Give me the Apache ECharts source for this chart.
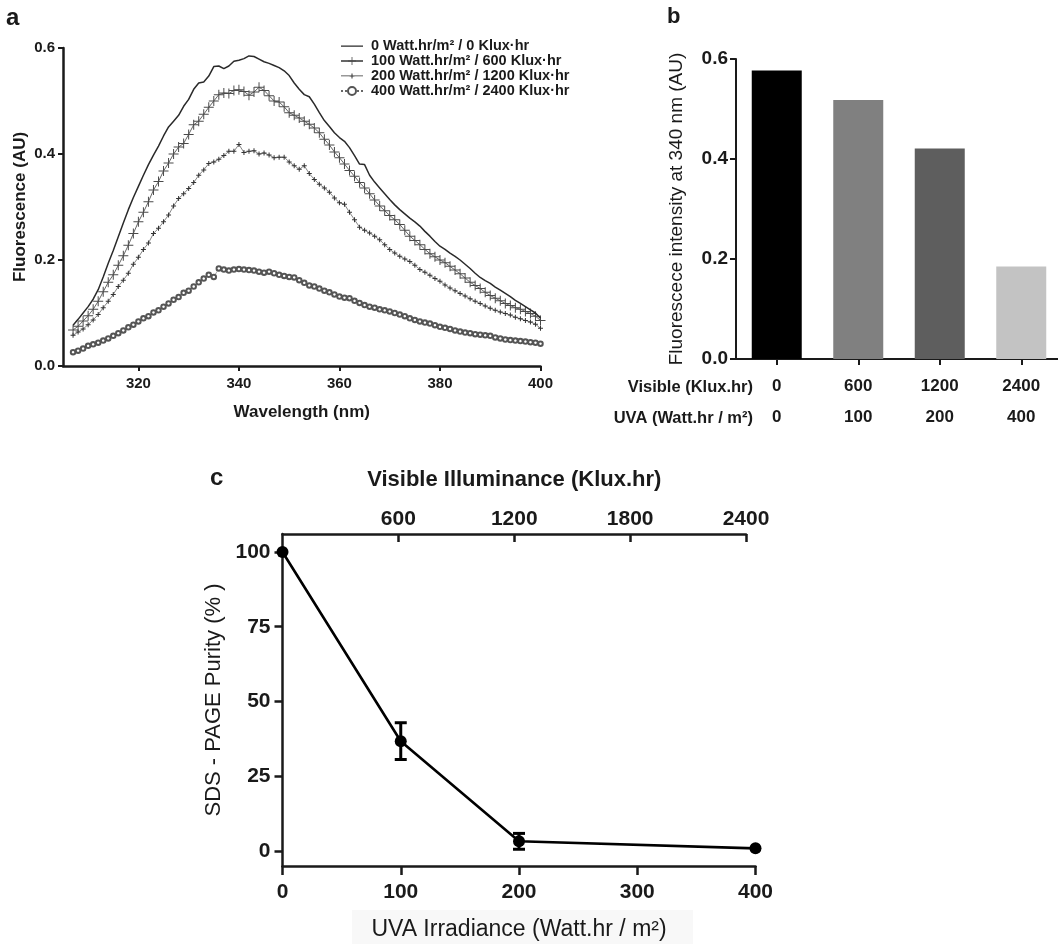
<!DOCTYPE html>
<html><head><meta charset="utf-8">
<script src="https://cdn.jsdelivr.net/npm/echarts@6.0.0/dist/echarts.min.js"></script>
<style>html,body{margin:0;padding:0;background:#fff}#c{width:1058px;height:944px}</style>
</head><body><div id="c"></div>
<script>
const FONT = '"Liberation Sans", Arial, Helvetica, sans-serif';
const INK = '#1a1a1a';

// ---------- panel a : emission spectra ----------
const wavelengths = [307,308,309,310,311,312,313,314,315,316,317,318,319,320,321,322,323,324,325,326,
  327,328,329,330,331,332,333,334,335,336,337,338,339,340,341,342,343,344,345,346,
  347,348,349,350,351,352,353,354,355,356,357,358,359,360,361,362,363,364,365,366,
  367,368,369,370,371,372,373,374,375,376,377,378,379,380,381,382,383,384,385,386,
  387,388,389,390,391,392,393,394,395,396,397,398,399,400];
const fluor0 = [0.077,0.088,0.100,0.112,0.126,0.144,0.168,0.194,0.218,0.244,
  0.270,0.295,0.318,0.339,0.360,0.380,0.398,0.415,0.434,0.451,
  0.462,0.473,0.490,0.503,0.522,0.534,0.536,0.547,0.565,0.566,
  0.561,0.566,0.575,0.577,0.580,0.585,0.584,0.579,0.574,0.571,
  0.567,0.563,0.557,0.548,0.534,0.522,0.512,0.508,0.494,0.478,
  0.463,0.452,0.440,0.431,0.424,0.412,0.397,0.381,0.380,0.360,
  0.347,0.336,0.325,0.314,0.304,0.295,0.287,0.279,0.272,0.264,
  0.254,0.245,0.235,0.226,0.220,0.213,0.207,0.200,0.192,0.184,
  0.175,0.167,0.161,0.156,0.149,0.143,0.137,0.131,0.124,0.118,
  0.112,0.106,0.100,0.090];
const fluor100 = [0.068,0.075,0.085,0.095,0.107,0.122,0.140,0.158,0.172,0.190,
  0.208,0.228,0.250,0.272,0.290,0.310,0.332,0.348,0.368,0.383,
  0.400,0.413,0.420,0.437,0.455,0.462,0.475,0.488,0.500,0.512,
  0.515,0.514,0.520,0.521,0.518,0.511,0.517,0.526,0.520,0.510,
  0.500,0.498,0.489,0.478,0.473,0.468,0.462,0.456,0.449,0.440,
  0.428,0.417,0.404,0.393,0.381,0.369,0.358,0.346,0.336,0.325,
  0.313,0.302,0.293,0.284,0.276,0.267,0.256,0.245,0.237,0.229,
  0.220,0.212,0.206,0.200,0.195,0.188,0.181,0.174,0.166,0.158,
  0.152,0.146,0.139,0.133,0.128,0.123,0.118,0.114,0.110,0.107,
  0.103,0.099,0.094,0.086];
const fluor200 = [0.058,0.064,0.070,0.078,0.087,0.097,0.110,0.122,0.135,0.150,
  0.162,0.175,0.192,0.205,0.220,0.232,0.250,0.260,0.272,0.285,
  0.302,0.316,0.325,0.335,0.346,0.360,0.370,0.382,0.385,0.390,
  0.397,0.405,0.405,0.418,0.403,0.405,0.406,0.400,0.402,0.398,
  0.393,0.394,0.394,0.385,0.378,0.371,0.378,0.363,0.352,0.343,
  0.336,0.328,0.317,0.308,0.305,0.290,0.276,0.262,0.256,0.251,
  0.245,0.238,0.229,0.220,0.213,0.207,0.202,0.197,0.190,0.182,
  0.177,0.171,0.165,0.160,0.153,0.147,0.142,0.137,0.132,0.127,
  0.122,0.118,0.113,0.109,0.105,0.102,0.099,0.096,0.092,0.089,
  0.086,0.083,0.079,0.071];
const fluor400 = [0.026,0.029,0.033,0.038,0.041,0.044,0.048,0.052,0.057,0.062,
  0.067,0.073,0.078,0.084,0.090,0.094,0.101,0.105,0.112,0.118,
  0.125,0.130,0.138,0.142,0.150,0.158,0.165,0.172,0.168,0.184,
  0.182,0.180,0.182,0.183,0.182,0.181,0.180,0.178,0.176,0.178,
  0.175,0.172,0.170,0.168,0.167,0.162,0.157,0.152,0.150,0.146,
  0.142,0.139,0.135,0.131,0.129,0.128,0.123,0.119,0.115,0.112,
  0.110,0.107,0.105,0.103,0.100,0.097,0.094,0.090,0.087,0.084,
  0.082,0.080,0.077,0.074,0.072,0.070,0.067,0.065,0.063,0.062,
  0.060,0.059,0.058,0.057,0.054,0.052,0.050,0.049,0.048,0.047,
  0.046,0.045,0.044,0.042];
const doseNames = ['0 Watt.hr/m² / 0 Klux·hr','100 Watt.hr/m² / 600 Klux·hr',
  '200 Watt.hr/m² / 1200 Klux·hr','400 Watt.hr/m² / 2400 Klux·hr'];
const spectraTicksX = [320,340,360,380,400];

// ---------- panel b : intensity at 340 nm ----------
const barVisible = ['0','600','1200','2400'];
const barUVA = ['0','100','200','400'];
const barValues = [0.577,0.518,0.421,0.185];
const barColors = ['#000000','#808080','#5e5e5e','#c3c3c3'];

// ---------- panel c : SDS-PAGE purity ----------
const uvaDose = [0,100,200,400];
const purity = [100,36.7,3.3,0.9];
const purityLow = [null,30.6,0.6,null];
const purityHigh = [null,42.9,5.9,null];
const purityTicks = [0,25,50,75,100];

const zip = (xs, ys) => xs.map((x,i)=>[x, ys[i]]);
const PLUS10 = 'path://M4.5,0h1v10h-1z M0,4.5h10v1h-10z';
const PLUS5 = 'path://M2,0h1v5h-1z M0,2h5v1h-5z';
// legend icons (22 x 10 box)
const ICON_LINE = 'path://M0,0h0.01v0.01h-0.01z M0,4.4h22v1.3h-22z M21.99,9.99h0.01v0.01h-0.01z';
const ICON_SMALLPLUS = 'path://M0,0h0.01v0.01h-0.01z M0,4.6h22v0.7h-22z M10.5,2.6h1v4.8h-1z M8.6,4.5h4.8v1h-4.8z M21.99,9.99h0.01v0.01h-0.01z';

const chart = echarts.init(document.getElementById('c'), null, {renderer:'canvas'});

const errData = [];
uvaDose.forEach((x,i)=>{ if (purityLow[i] !== null) errData.push([x, purityLow[i], purityHigh[i]]); });

const option = {
  backgroundColor:'#fff',
  animation:false,
  textStyle:{fontFamily:FONT, color:INK},
  grid:[
    {left:63, top:48, width:477.5, height:318, outerBoundsMode:'none', containLabel:false},
    {left:736, top:59, width:326, height:300, outerBoundsMode:'none', containLabel:false},
    {left:282.5, top:534, width:473, height:332, outerBoundsMode:'none', containLabel:false},
    {left:282.5, top:534, width:463.5, height:332, outerBoundsMode:'none', containLabel:false}
  ],
  legend:{
    left:335, top:33.5, orient:'vertical', itemWidth:22, itemHeight:10, itemGap:0,
    data:[
      {name:doseNames[0], icon:ICON_LINE},
      {name:doseNames[1]},
      {name:doseNames[2], icon:ICON_SMALLPLUS},
      {name:doseNames[3]}
    ],
    textStyle:{fontFamily:FONT, fontWeight:'bold', fontSize:14.5, color:INK, lineHeight:15, padding:[0,0,0,3]}
  },
  xAxis:[
    {gridIndex:0, type:'value', min:305, max:400,
      name:'Wavelength (nm)', nameLocation:'middle', nameGap:38,
      nameTextStyle:{fontFamily:FONT, fontWeight:'bold', fontSize:17, color:INK},
      axisLine:{show:true, onZero:false, lineStyle:{color:INK, width:2.5}},
      axisTick:{show:true, length:5, lineStyle:{color:INK, width:2}, customValues:spectraTicksX},
      axisLabel:{fontFamily:FONT, fontWeight:'bold', fontSize:15, color:INK, margin:10, customValues:spectraTicksX},
      splitLine:{show:false}},
    {gridIndex:1, type:'category', data:barVisible,
      axisLine:{show:true, onZero:false, lineStyle:{color:INK, width:2}},
      axisTick:{show:true, alignWithLabel:true, length:6, lineStyle:{color:INK, width:2}},
      axisLabel:{fontFamily:FONT, fontWeight:'bold', fontSize:17, color:INK, margin:12, lineHeight:31,
        formatter:(v,i)=> v + '\n' + barUVA[i]},
      splitLine:{show:false}},
    {gridIndex:2, type:'value', min:0, max:400, interval:100, position:'bottom',
      name:'UVA Irradiance (Watt.hr / m²)', nameLocation:'middle', nameGap:52,
      nameTextStyle:{fontFamily:FONT, fontSize:23, color:INK},
      axisLine:{show:true, onZero:false, lineStyle:{color:INK, width:2.5}},
      axisTick:{show:true, length:9, lineStyle:{color:INK, width:2.5}},
      axisLabel:{fontFamily:FONT, fontWeight:'bold', fontSize:21, color:INK, margin:16, formatter:v=>String(v)},
      splitLine:{show:false}},
    {gridIndex:3, type:'value', min:0, max:2400, interval:600, position:'top',
      name:'Visible Illuminance (Klux.hr)', nameLocation:'middle', nameGap:43,
      nameTextStyle:{fontFamily:FONT, fontWeight:'bold', fontSize:22, color:INK},
      axisLine:{show:true, onZero:false, lineStyle:{color:INK, width:2.5}},
      axisTick:{show:true, inside:true, length:8, lineStyle:{color:INK, width:2.5}},
      axisLabel:{fontFamily:FONT, fontWeight:'bold', fontSize:21, color:INK, margin:4, showMinLabel:false, formatter:v=>String(v)},
      splitLine:{show:false}}
  ],
  yAxis:[
    {gridIndex:0, type:'value', min:0, max:0.6, interval:0.2,
      name:'Fluorescence (AU)', nameLocation:'middle', nameGap:34,
      nameTextStyle:{fontFamily:FONT, fontWeight:'bold', fontSize:17, color:INK},
      axisLine:{show:true, onZero:false, lineStyle:{color:INK, width:2.5}},
      axisTick:{show:true, length:5, lineStyle:{color:INK, width:2}},
      axisLabel:{fontFamily:FONT, fontWeight:'bold', fontSize:15, color:INK, margin:8, formatter:v=>v.toFixed(1)},
      splitLine:{show:false}},
    {gridIndex:1, type:'value', min:0, max:0.6, interval:0.2,
      name:'Fluorescece intensity at 340 nm (AU)', nameLocation:'middle', nameGap:50,
      nameTextStyle:{fontFamily:FONT, fontSize:19, color:INK},
      axisLine:{show:true, onZero:false, lineStyle:{color:INK, width:2}},
      axisTick:{show:true, length:6, lineStyle:{color:INK, width:2}},
      axisLabel:{fontFamily:FONT, fontWeight:'bold', fontSize:19, color:INK, margin:8, formatter:v=>v.toFixed(1)},
      splitLine:{show:false}},
    {gridIndex:2, type:'value', min:-5, max:106,
      name:'SDS - PAGE Purity (% )', nameLocation:'middle', nameGap:58,
      nameTextStyle:{fontFamily:FONT, fontSize:22, color:INK},
      axisLine:{show:true, onZero:false, lineStyle:{color:INK, width:2.5}},
      axisTick:{show:true, length:8, lineStyle:{color:INK, width:2.5}, customValues:purityTicks},
      axisLabel:{fontFamily:FONT, fontWeight:'bold', fontSize:21, color:INK, margin:12, customValues:purityTicks},
      splitLine:{show:false}},
    {gridIndex:3, type:'value', min:-5, max:106, show:false}
  ],
  graphic:[
    {type:'rect', z:-100, shape:{x:352, y:910, width:341, height:34}, style:{fill:'#f8f8f8'}},
    {type:'text', left:6, top:6, style:{text:'a', font:'bold 24px '+FONT, fill:INK}},
    {type:'text', left:667, top:6, style:{text:'b', font:'bold 22px '+FONT, fill:INK}},
    {type:'text', left:210, top:466, style:{text:'c', font:'bold 24px '+FONT, fill:INK}},
    {type:'text', x:753, y:387, style:{text:'Visible (Klux.hr)', font:'bold 16.5px '+FONT, fill:INK, align:'right', verticalAlign:'middle'}},
    {type:'text', x:753, y:418, style:{text:'UVA (Watt.hr / m²)', font:'bold 16.5px '+FONT, fill:INK, align:'right', verticalAlign:'middle'}}
  ],
  series:[
    {name:doseNames[0], type:'line', xAxisIndex:0, yAxisIndex:0, data:zip(wavelengths, fluor0),
      symbol:'none', lineStyle:{color:'#2a2a2a', width:1.5}, itemStyle:{color:'#2a2a2a'}, z:5},
    {name:doseNames[1], type:'line', xAxisIndex:0, yAxisIndex:0, data:zip(wavelengths, fluor100),
      symbol:PLUS10, symbolSize:10, showAllSymbol:true,
      lineStyle:{color:'#666', width:1}, itemStyle:{color:'#4a4a4a'}, z:4},
    {name:doseNames[2], type:'line', xAxisIndex:0, yAxisIndex:0, data:zip(wavelengths, fluor200),
      symbol:PLUS5, symbolSize:5, showAllSymbol:true,
      lineStyle:{color:'#777', width:0.9}, itemStyle:{color:'#333'}, z:3},
    {name:doseNames[3], type:'line', xAxisIndex:0, yAxisIndex:0, data:zip(wavelengths, fluor400),
      symbol:'emptyCircle', symbolSize:4.5, showAllSymbol:true,
      lineStyle:{color:'#666', width:1, type:'dotted'}, itemStyle:{color:'#555', borderWidth:0.8}, z:3},
    {type:'bar', xAxisIndex:1, yAxisIndex:1, barWidth:50,
      data:barValues.map((v,i)=>({value:v, itemStyle:{color:barColors[i]}}))},
    {type:'line', xAxisIndex:2, yAxisIndex:2, data:zip(uvaDose, purity),
      symbol:'circle', symbolSize:12, lineStyle:{color:'#000', width:2.6}, itemStyle:{color:'#000'}, z:6},
    {type:'custom', xAxisIndex:2, yAxisIndex:2, data:errData, encode:{x:0, y:[1,2]}, z:7,
      renderItem:(params, api)=>{
        const x = api.value(0);
        const pLo = api.coord([x, api.value(1)]);
        const pHi = api.coord([x, api.value(2)]);
        const w = 6;
        const st = {stroke:'#000', lineWidth:3};
        return {type:'group', children:[
          {type:'line', shape:{x1:pLo[0], y1:pLo[1], x2:pHi[0], y2:pHi[1]}, style:st},
          {type:'line', shape:{x1:pLo[0]-w, y1:pLo[1], x2:pLo[0]+w, y2:pLo[1]}, style:st},
          {type:'line', shape:{x1:pHi[0]-w, y1:pHi[1], x2:pHi[0]+w, y2:pHi[1]}, style:st}
        ]};
      }}
  ]
};
chart.setOption(option);
</script>
</body></html>
